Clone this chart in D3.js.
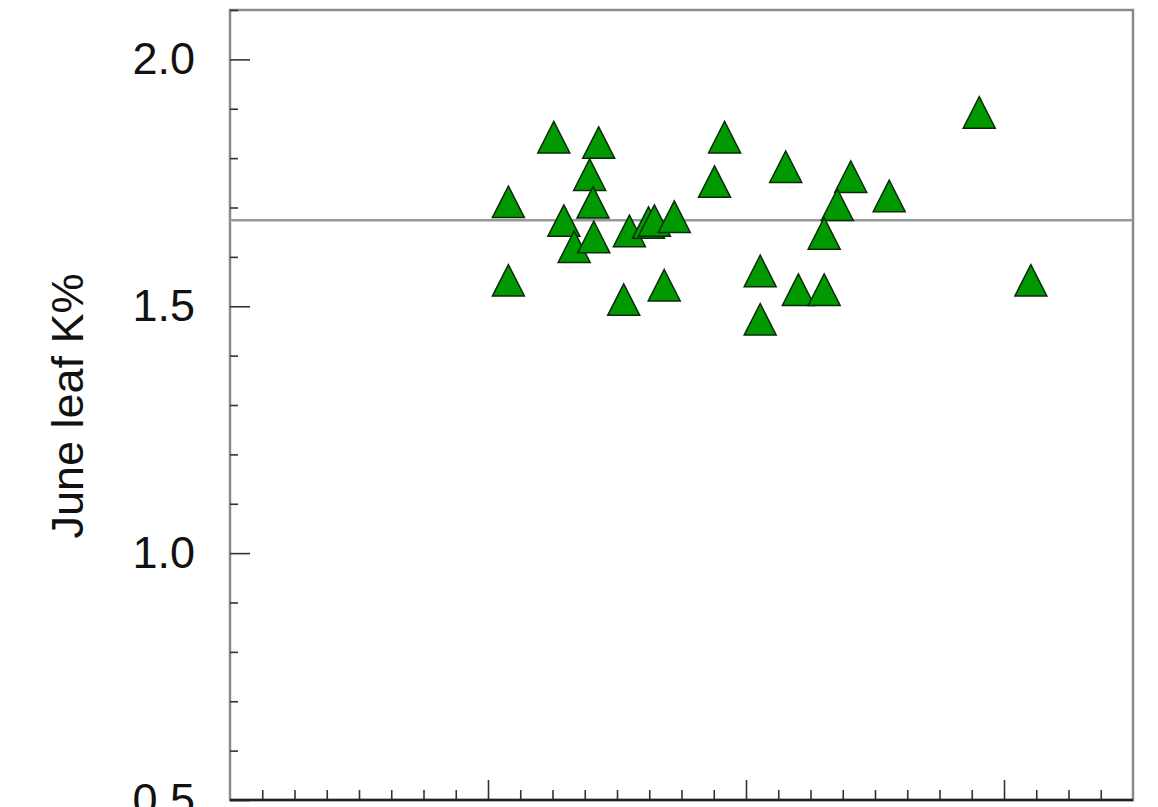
<!DOCTYPE html>
<html>
<head>
<meta charset="utf-8">
<script src="https://cdn.jsdelivr.net/npm/d3@7"></script>
<style>
  html, body { margin: 0; padding: 0; background: #fff; overflow: hidden; }
  text { font-family: "Liberation Sans", Arial, Helvetica, sans-serif; fill: #111; }
</style>
</head>
<body>
<svg id="chart"></svg>
<script>
// Scatter points
const xValues = [1.255, 1.429, 1.394, 1.079, 1.407, 1.294, 1.334, 1.410, 1.548, 1.622,
                 1.645, 1.722, 1.917, 1.878, 1.079, 1.526, 1.683, 2.904, 2.154, 2.406,
                 2.354, 2.555, 2.303, 2.055, 2.203, 2.303, 3.104, 2.055];
const yValues = [1.842, 1.831, 1.766, 1.711, 1.710, 1.673, 1.620, 1.640, 1.652, 1.669,
                 1.673, 1.681, 1.842, 1.752, 1.552, 1.513, 1.542, 1.892, 1.782, 1.762,
                 1.705, 1.723, 1.647, 1.571, 1.533, 1.533, 1.552, 1.473];
const meanLine = 1.674;
const yMajorTicks = [0.5, 1.0, 1.5, 2.0];
const yMinorTicks = [0.6, 0.7, 0.8, 0.9, 1.1, 1.2, 1.3, 1.4, 1.6, 1.7, 1.8, 1.9, 2.1];
const xMajorTicks = [1, 2, 3];
const xMinorTicks = d3.range(0.125, 3.5, 0.125).filter(v => Math.abs(v - Math.round(v)) > 1e-6);
const yLabel = "June leaf K%";

const width = 1158, height = 807;
const margin = { left: 230, right: 25, top: 10, bottom: 7 };

const svg = d3.select("#chart").attr("width", width).attr("height", height);

const x = d3.scaleLinear().domain([0, 3.5]).range([margin.left, width - margin.right]);
const y = d3.scaleLinear().domain([0.5, 2.1]).range([height - margin.bottom, margin.top]);

// frame
svg.append("rect")
    .attr("x", margin.left).attr("y", margin.top)
    .attr("width", width - margin.right - margin.left)
    .attr("height", height - margin.bottom - margin.top)
    .attr("fill", "none").attr("stroke", "#8a8a8a").attr("stroke-width", 2.5);

// y axis, ticks pointing inward
const yMajor = svg.append("g")
    .attr("transform", `translate(${margin.left},0)`)
    .call(d3.axisLeft(y).tickValues(yMajorTicks).tickSize(-20).tickPadding(35).tickFormat(d3.format(".1f")));
const yMinor = svg.append("g")
    .attr("transform", `translate(${margin.left},0)`)
    .call(d3.axisLeft(y).tickValues(yMinorTicks).tickSize(-8).tickFormat(""));

// x axis (labels are off the bottom of the picture)
const xMajor = svg.append("g")
    .attr("transform", `translate(0,${height - margin.bottom})`)
    .call(d3.axisBottom(x).tickValues(xMajorTicks).tickSize(-20).tickFormat(""));
const xMinor = svg.append("g")
    .attr("transform", `translate(0,${height - margin.bottom})`)
    .call(d3.axisBottom(x).tickValues(xMinorTicks).tickSize(-10).tickFormat(""));

[yMajor, yMinor, xMajor, xMinor].forEach(g => {
    g.select(".domain").remove();
    g.selectAll(".tick line").attr("stroke", "#333").attr("stroke-width", 1.6);
});
yMajor.selectAll("text").style("font-size", "45px").attr("fill", "#111");

// bottom axis line
svg.append("line")
    .attr("x1", margin.left).attr("x2", width - margin.right)
    .attr("y1", height - margin.bottom).attr("y2", height - margin.bottom)
    .attr("stroke", "#222").attr("stroke-width", 2.5);

// horizontal reference line
svg.append("line")
    .attr("x1", margin.left).attr("x2", width - margin.right)
    .attr("y1", y(meanLine)).attr("y2", y(meanLine))
    .attr("stroke", "#999").attr("stroke-width", 2.5);

// y label
svg.append("text")
    .attr("transform", `translate(83,406) rotate(-90)`)
    .attr("text-anchor", "middle")
    .style("font-size", "45px")
    .text(yLabel);

// triangle markers
const tri = "M0,-16L16,15.5L-16,15.5Z";
const points = xValues.map((v, i) => ({ x: v, y: yValues[i] }));
svg.append("g")
    .selectAll("path")
    .data(points)
    .join("path")
    .attr("d", tri)
    .attr("transform", d => `translate(${x(d.x)},${y(d.y)})`)
    .attr("fill", "#009a00")
    .attr("stroke", "#0a2a0a")
    .attr("stroke-width", 1.5);
</script>
</body>
</html>
